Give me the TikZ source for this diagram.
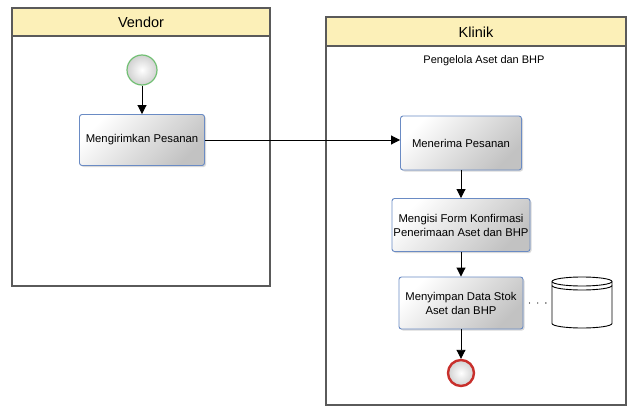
\documentclass[tikz,border=0pt]{standalone}
\usepackage{fontspec}
\setmainfont{Liberation Sans}
\usetikzlibrary{arrows.meta,shadows}
\definecolor{laneHead}{HTML}{FCF0B8}
\definecolor{laneLine}{HTML}{5A5A5A}
\definecolor{taskLine}{HTML}{6A8BC4}
\definecolor{startLine}{HTML}{72C074}
\definecolor{endLine}{HTML}{C8302C}
\begin{document}
\begin{tikzpicture}[x=1pt,y=-1pt,
  lane/.style={draw=laneLine, line width=1.2pt},
  head/.style={draw=laneLine, line width=1.2pt, fill=laneHead},
  title/.style={font=\fontsize{14.5}{16}\selectfont},
  task/.style={rectangle, rounded corners=2.5pt, draw=taskLine, line width=0.9pt,
    top color=white, bottom color=black!24, shading angle=45,
    drop shadow={opacity=0.3, shadow xshift=1.5pt, shadow yshift=-1.5pt},
    inner sep=0pt, align=center, font=\fontsize{11.3}{14}\selectfont},
  event/.style={circle, inner sep=0pt, inner color=white, outer color=black!18},
  flow/.style={-{Triangle[length=9pt,width=9pt]}, line width=0.9pt},
  assoc/.style={line width=1.3pt, line cap=round, dash pattern=on 0pt off 8.2pt, shorten <=6pt, shorten >=5pt}
]
\useasboundingbox (0,0) rectangle (628,406);
% lanes
\draw[lane] (12,8) rectangle (270,286);
\draw[head] (12,8) rectangle (270,36);
\node[title] (vendor) at (141,22) {Vendor};
\draw[lane] (326,17) rectangle (626,405);
\draw[head] (326,17) rectangle (626,46);
\node[title] (klinik) at (476,32) {Klinik};
\node[font=\fontsize{11}{13}\selectfont] (role) at (484,61) {Pengelola Aset dan BHP};
% vendor
\node[event, draw=startLine, line width=1.2pt, minimum size=30pt] (start) at (142,70) {};
\node[task, minimum width=125pt, minimum height=51pt] (send) at (142,140) {Mengirimkan Pesanan};
\draw[flow] (start) -- (send);
% klinik
\node[task, minimum width=121pt, minimum height=54pt] (receive) at (461,143) {Menerima Pesanan};
\node[task, minimum width=138pt, minimum height=53pt] (form) at (461,225) {Mengisi Form Konfirmasi\\Penerimaan Aset dan BHP};
\node[task, minimum width=124pt, minimum height=52pt] (store) at (461,303) {Menyimpan Data Stok\\Aset dan BHP};
\node[event, draw=endLine, line width=2.4pt, minimum size=26pt] (end) at (461,373) {};
\draw[flow] (send.east) -- (send.east -| receive.west);
\draw[flow] (receive) -- (form);
\draw[flow] (form) -- (store);
\draw[flow] (store) -- (end);
% data store
\draw[line width=0.9pt, fill=white] (552,281.5) -- (552,323.5)
  arc[start angle=180, end angle=0, x radius=30, y radius=4.5] -- (612,281.5)
  arc[start angle=0, end angle=-180, x radius=30, y radius=4.5] -- cycle;
\draw[line width=0.9pt] (552,281.5) arc[start angle=180, end angle=0, x radius=30, y radius=4.5];
\draw[line width=0.9pt] (552,285.5) arc[start angle=180, end angle=0, x radius=30, y radius=4.5];
\coordinate (db) at (552,303);
\draw[assoc] (store.east) -- (db);
\end{tikzpicture}
\end{document}
